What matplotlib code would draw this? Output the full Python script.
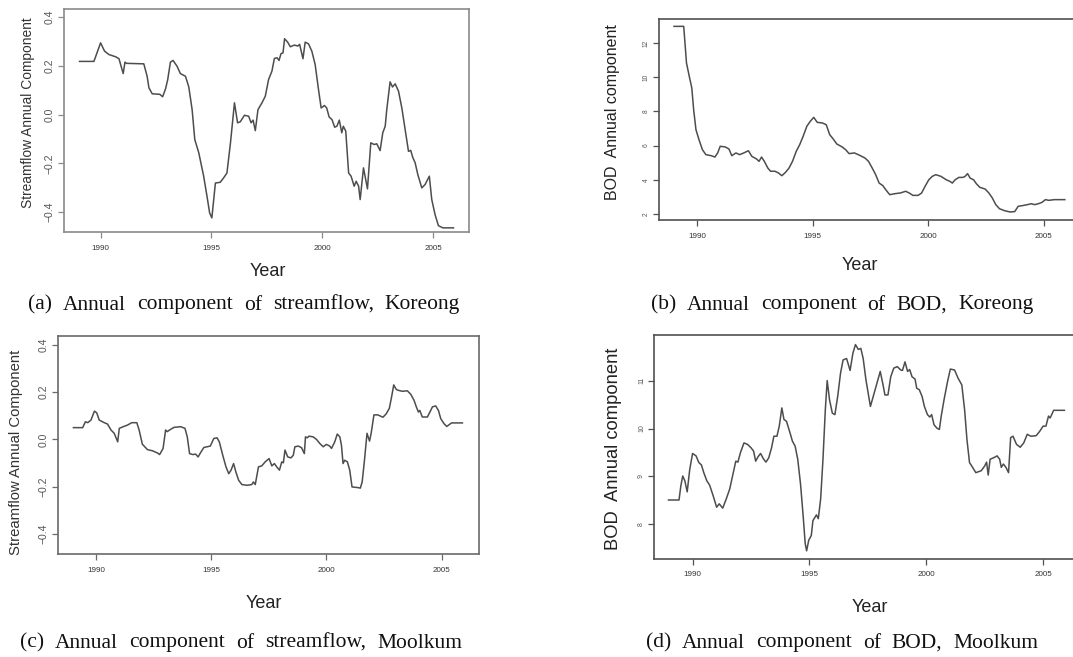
import numpy as np
import matplotlib
matplotlib.use("Agg")
import matplotlib.pyplot as plt

plt.rcParams['font.family'] = 'sans-serif'
plt.rcParams['font.sans-serif'] = ['Liberation Sans', 'DejaVu Sans']

# ---- (a) streamflow, Koreong ----
yr_a = [1989.05, 1989.7, 1990.0, 1990.18, 1990.38, 1990.68, 1990.83, 1991.02, 1991.1, 1991.17,
        1991.95, 1992.1, 1992.18, 1992.33, 1992.67, 1992.8, 1992.93, 1993.03, 1993.15, 1993.27,
        1993.45, 1993.6, 1993.83, 1993.98, 1994.13, 1994.25, 1994.43, 1994.65, 1994.8, 1994.92,
        1995.02, 1995.18, 1995.4, 1995.55, 1995.7, 1995.86, 1996.04, 1996.18, 1996.3, 1996.49,
        1996.68, 1996.79, 1996.88, 1996.98, 1997.1, 1997.28, 1997.43, 1997.58, 1997.73, 1997.84,
        1997.96, 1998.05, 1998.14, 1998.23, 1998.3, 1998.44, 1998.56, 1998.74, 1998.9, 1998.98,
        1999.13, 1999.23, 1999.38, 1999.53, 1999.68, 1999.83, 1999.95, 2000.1, 2000.2, 2000.31,
        2000.44, 2000.56, 2000.66, 2000.77, 2000.88, 2000.95, 2001.06, 2001.19, 2001.3, 2001.44,
        2001.53, 2001.64, 2001.71, 2001.86, 2002.04, 2002.19, 2002.34, 2002.46, 2002.61, 2002.73,
        2002.84, 2002.91, 2003.06, 2003.17, 2003.29, 2003.44, 2003.59, 2003.74, 2003.89, 2003.99,
        2004.08, 2004.19, 2004.31, 2004.49, 2004.64, 2004.83, 2004.94, 2005.09, 2005.24, 2005.44,
        2005.92]
val_a = [0.218, 0.218, 0.294, 0.26, 0.246, 0.237, 0.229, 0.168, 0.215, 0.21,
         0.208, 0.157, 0.11, 0.085, 0.083, 0.073, 0.105, 0.144, 0.215, 0.222,
         0.198, 0.168, 0.157, 0.113, 0.02, -0.103, -0.157, -0.253, -0.335, -0.404,
         -0.424, -0.281, -0.278, -0.26, -0.24, -0.116, 0.048, -0.034, -0.03, -0.003,
         -0.007, -0.034, -0.023, -0.066, 0.02, 0.048, 0.075, 0.144, 0.178, 0.23,
         0.233, 0.222, 0.25, 0.253, 0.311, 0.297, 0.278, 0.285, 0.281, 0.288,
         0.229, 0.297, 0.29, 0.26, 0.205, 0.103, 0.027, 0.037, 0.027, -0.01,
         -0.021, -0.052, -0.048, -0.023, -0.075, -0.048, -0.068, -0.24, -0.253, -0.294,
         -0.274, -0.294, -0.349, -0.219, -0.305, -0.116, -0.123, -0.12, -0.148, -0.075,
         -0.048, 0.02, 0.134, 0.113, 0.126, 0.096, 0.027, -0.062, -0.151, -0.147,
         -0.175, -0.198, -0.246, -0.301, -0.287, -0.253, -0.349, -0.411, -0.456, -0.465,
         -0.465]

# ---- (b) BOD, Koreong ----
yr_b = [1989.0, 1989.42, 1989.54, 1989.66, 1989.77, 1989.85, 1989.95, 1990.08, 1990.23, 1990.38,
        1990.61, 1990.77, 1990.89, 1991.0, 1991.22, 1991.38, 1991.5, 1991.68, 1991.84, 1992.02,
        1992.22, 1992.37, 1992.57, 1992.68, 1992.79, 1992.91, 1993.06, 1993.18, 1993.37, 1993.52,
        1993.67, 1993.83, 1993.98, 1994.13, 1994.29, 1994.44, 1994.59, 1994.75, 1994.9, 1995.05,
        1995.2, 1995.43, 1995.59, 1995.74, 1995.89, 1996.05, 1996.28, 1996.43, 1996.58, 1996.81,
        1997.04, 1997.27, 1997.42, 1997.58, 1997.73, 1997.88, 1998.04, 1998.19, 1998.34, 1998.57,
        1998.8, 1999.03, 1999.18, 1999.34, 1999.57, 1999.72, 1999.87, 2000.03, 2000.18, 2000.33,
        2000.56, 2000.79, 2000.94, 2001.05, 2001.17, 2001.33, 2001.51, 2001.6, 2001.71, 2001.82,
        2001.97, 2002.09, 2002.24, 2002.47, 2002.63, 2002.78, 2002.93, 2003.09, 2003.32, 2003.55,
        2003.75, 2003.9, 2004.08, 2004.31, 2004.46, 2004.62, 2004.77, 2004.93, 2005.08, 2005.23,
        2005.46, 2005.92]
val_b = [12.97, 12.97, 10.83, 10.05, 9.37, 8.1, 6.93, 6.35, 5.76, 5.47,
         5.41, 5.33, 5.57, 5.96, 5.92, 5.8, 5.41, 5.57, 5.47, 5.57,
         5.7, 5.37, 5.22, 5.08, 5.33, 5.08, 4.69, 4.5, 4.5, 4.4,
         4.24, 4.44, 4.69, 5.08, 5.66, 6.05, 6.54, 7.13, 7.42, 7.65,
         7.36, 7.32, 7.22, 6.64, 6.39, 6.09, 5.92, 5.76, 5.53, 5.57,
         5.43, 5.27, 5.08, 4.69, 4.3, 3.81, 3.66, 3.38, 3.13, 3.19,
         3.23, 3.33, 3.23, 3.09, 3.09, 3.23, 3.62, 4.0, 4.2, 4.3,
         4.2, 4.0, 3.91, 3.81, 4.0, 4.14, 4.14, 4.2, 4.36, 4.1,
         4.0, 3.77, 3.56, 3.46, 3.23, 2.94, 2.55, 2.31, 2.19, 2.12,
         2.14, 2.45, 2.49, 2.55, 2.6, 2.55, 2.6, 2.68, 2.84, 2.8,
         2.84, 2.84]

# ---- (c) streamflow, Moolkum ----
yr_c = [1989.02, 1989.42, 1989.54, 1989.64, 1989.78, 1989.93, 1990.03, 1990.14, 1990.36, 1990.5,
        1990.65, 1990.79, 1990.94, 1991.01, 1991.18, 1991.37, 1991.55, 1991.77, 1991.87, 1992.01,
        1992.23, 1992.45, 1992.66, 1992.76, 1992.91, 1993.02, 1993.09, 1993.19, 1993.38, 1993.67,
        1993.86, 1993.96, 1994.06, 1994.2, 1994.32, 1994.43, 1994.53, 1994.68, 1994.82, 1994.96,
        1995.11, 1995.25, 1995.35, 1995.5, 1995.64, 1995.76, 1995.86, 1995.97, 1996.07, 1996.19,
        1996.33, 1996.55, 1996.76, 1996.83, 1996.91, 1997.05, 1997.19, 1997.34, 1997.51, 1997.63,
        1997.74, 1997.84, 1997.96, 1998.06, 1998.13, 1998.2, 1998.32, 1998.46, 1998.56, 1998.63,
        1998.78, 1998.92, 1999.04, 1999.09, 1999.17, 1999.24, 1999.42, 1999.57, 1999.71, 1999.86,
        2000.0, 2000.14, 2000.22, 2000.36, 2000.47, 2000.58, 2000.65, 2000.72, 2000.79, 2000.91,
        2001.01, 2001.11, 2001.37, 2001.47, 2001.55, 2001.65, 2001.76, 2001.87, 2001.94, 2002.06,
        2002.23, 2002.45, 2002.59, 2002.73, 2002.83, 2002.92, 2003.02, 2003.08, 2003.29, 2003.51,
        2003.66, 2003.8, 2003.9, 2003.99, 2004.05, 2004.16, 2004.38, 2004.49, 2004.6, 2004.74,
        2004.86, 2004.96, 2005.1, 2005.22, 2005.43, 2005.9]
val_c = [0.05, 0.05, 0.075, 0.071, 0.082, 0.12, 0.113, 0.082, 0.071, 0.065,
         0.04, 0.026, -0.01, 0.047, 0.054, 0.061, 0.071, 0.071, 0.04, -0.02,
         -0.043, -0.048, -0.057, -0.064, -0.038, 0.04, 0.033, 0.04, 0.051, 0.054,
         0.047, 0.011, -0.06, -0.064, -0.062, -0.074, -0.057, -0.034, -0.031, -0.028,
         0.004, 0.007, -0.01, -0.067, -0.116, -0.145, -0.13, -0.102, -0.138, -0.173,
         -0.191, -0.194, -0.191, -0.18, -0.191, -0.116, -0.112, -0.095, -0.081, -0.112,
         -0.102, -0.116, -0.13, -0.095, -0.099, -0.045, -0.074, -0.078, -0.067, -0.031,
         -0.028, -0.035, -0.06, 0.011, 0.007, 0.014, 0.011, 0.0, -0.017, -0.031,
         -0.021, -0.028, -0.038, -0.01, 0.023, 0.011, -0.024, -0.102, -0.088, -0.095,
         -0.13, -0.201, -0.204, -0.206, -0.18, -0.088, 0.026, -0.007, 0.026, 0.104,
         0.104, 0.094, 0.108, 0.132, 0.182, 0.231, 0.213, 0.209, 0.204, 0.206,
         0.191, 0.166, 0.138, 0.116, 0.123, 0.095, 0.095, 0.116, 0.138, 0.142,
         0.123, 0.088, 0.067, 0.055, 0.07, 0.07]

# ---- (d) BOD, Moolkum ----
yr_d = [1988.97, 1989.42, 1989.5, 1989.58, 1989.67, 1989.77, 1989.88, 1990.0, 1990.15, 1990.27,
        1990.38, 1990.48, 1990.61, 1990.73, 1990.88, 1991.03, 1991.14, 1991.29, 1991.44, 1991.59,
        1991.74, 1991.85, 1991.94, 1992.05, 1992.2, 1992.35, 1992.5, 1992.61, 1992.7, 1992.8,
        1992.91, 1993.03, 1993.14, 1993.26, 1993.38, 1993.48, 1993.61, 1993.71, 1993.82, 1993.91,
        1994.02, 1994.17, 1994.27, 1994.39, 1994.5, 1994.62, 1994.73, 1994.82, 1994.88, 1994.97,
        1995.08, 1995.15, 1995.3, 1995.38, 1995.48, 1995.58, 1995.68, 1995.76, 1995.86, 1995.98,
        1996.09, 1996.21, 1996.33, 1996.44, 1996.59, 1996.74, 1996.86, 1996.97, 1997.09, 1997.2,
        1997.3, 1997.42, 1997.61, 1997.73, 1997.88, 1998.03, 1998.15, 1998.23, 1998.36, 1998.48,
        1998.61, 1998.76, 1998.91, 1998.98, 1999.09, 1999.2, 1999.29, 1999.39, 1999.52, 1999.59,
        1999.7, 1999.82, 1999.92, 2000.05, 2000.15, 2000.23, 2000.33, 2000.45, 2000.56, 2000.64,
        2000.76, 2000.91, 2001.03, 2001.21, 2001.36, 2001.52, 2001.64, 2001.74, 2001.85, 2001.97,
        2002.12, 2002.23, 2002.35, 2002.5, 2002.58, 2002.65, 2002.73, 2002.88, 2003.03, 2003.14,
        2003.21, 2003.3, 2003.41, 2003.52, 2003.61, 2003.71, 2003.86, 2004.02, 2004.17, 2004.32,
        2004.47, 2004.7, 2004.85, 2005.0, 2005.12, 2005.23, 2005.3, 2005.45, 2005.91]
val_d = [8.51, 8.51, 8.81, 9.01, 8.91, 8.68, 9.15, 9.48, 9.43, 9.29,
         9.24, 9.08, 8.91, 8.82, 8.6, 8.36, 8.43, 8.34, 8.53, 8.74,
         9.08, 9.32, 9.3, 9.5, 9.7, 9.67, 9.6, 9.53, 9.32, 9.41,
         9.48, 9.37, 9.3, 9.39, 9.6, 9.84, 9.84, 10.05, 10.43, 10.19,
         10.15, 9.91, 9.74, 9.63, 9.36, 8.84, 8.19, 7.6, 7.45, 7.67,
         7.77, 8.08, 8.2, 8.12, 8.53, 9.36, 10.39, 11.0, 10.6, 10.32,
         10.29, 10.67, 11.15, 11.43, 11.46, 11.21, 11.57, 11.75, 11.65, 11.67,
         11.46, 11.01, 10.46, 10.67, 10.94, 11.19, 10.91, 10.7, 10.7, 11.08,
         11.26, 11.29, 11.22, 11.21, 11.39, 11.19, 11.23, 11.08, 11.03, 10.84,
         10.81, 10.67, 10.46, 10.29, 10.24, 10.29, 10.08, 10.01, 9.98, 10.26,
         10.6, 10.98, 11.24, 11.22, 11.05, 10.91, 10.39, 9.77, 9.29, 9.2,
         9.08, 9.1, 9.12, 9.22, 9.3, 9.03, 9.36, 9.39, 9.43, 9.36,
         9.19, 9.26, 9.19, 9.08, 9.81, 9.84, 9.67, 9.61, 9.7, 9.88,
         9.84, 9.85, 9.94, 10.05, 10.05, 10.26, 10.22, 10.38, 10.38]

xticks = [1990, 1995, 2000, 2005]
yticks_a = [-0.4, -0.2, 0.0, 0.2, 0.4]
yticks_b = [2, 4, 6, 8, 10, 12]
yticks_d = [8, 9, 10, 11]

captions = ["(a) Annual component of streamflow, Koreong",
            "(b) Annual component of BOD, Koreong",
            "(c) Annual component of streamflow, Moolkum",
            "(d) Annual component of BOD, Moolkum"]

W, H = 1073, 657
fig = plt.figure(figsize=(W / 100, H / 100), dpi=100)


def px_axes(l, t, r, b):
    return fig.add_axes([l / W, 1 - b / H, (r - l) / W, (b - t) / H])


def ftext(xp, yp, s, **kw):
    return fig.text(xp / W, 1 - yp / H, s, ha="center", va="center", **kw)


def spaced(s, xc, yc, gap, **kw):
    # caption set word by word with a wide, fixed inter-word gap (pixels), centred on xc
    words = s.split(" ")
    texts = [fig.text(0, 1 - yc / H, w, ha="left", va="center", **kw) for w in words]
    r = fig.canvas.get_renderer()
    widths = [t.get_window_extent(r).width for t in texts]
    total = sum(widths) + gap * (len(words) - 1)
    x = xc - total / 2
    for t, w in zip(texts, widths):
        t.set_x(x / W)
        x += w + gap


line_col = "#4d4d4d"

panels = [
    # x, y, box(l,t,r,b), ylim, yticks, frame colour, ytick size, decimals
    (yr_a, val_a, (64, 9, 469, 232), (-0.482, 0.433), yticks_a, "#8a8a8a", 7.5, True),
    (yr_b, val_b, (659, 19, 1081, 220), (1.65, 13.4), yticks_b, "#505050", 4.8, False),
    (yr_c, val_c, (58, 336, 479, 554), (-0.485, 0.438), yticks_a, "#6a6a6a", 7.5, True),
    (yr_d, val_d, (654, 335, 1081, 559), (7.28, 11.95), yticks_d, "#505050", 5.0, False),
]

for x, y, box, ylim, yt, fcol, ysz, dec in panels:
    ax = px_axes(*box)
    ax.plot(x, y, color=line_col, lw=1.1)
    ax.set_xlim(1988.35, 2006.62)
    ax.set_ylim(*ylim)
    ax.set_xticks(xticks)
    ax.set_xticklabels([str(v) for v in xticks], fontsize=5.8, color="#333333")
    ax.set_yticks(yt)
    if dec:
        labs = [f"{v:.1f}".replace("-", "\u2212") for v in yt]
    else:
        labs = [str(v) for v in yt]
    ax.set_yticklabels(labs, fontsize=ysz, rotation=90, va="center", color="#555555")
    ax.tick_params(axis="both", direction="out", length=4, width=0.9, color=fcol)
    ax.tick_params(axis="x", pad=5)
    ax.tick_params(axis="y", pad=2.5)
    for s in ax.spines.values():
        s.set_color(fcol)
        s.set_linewidth(1.2)

# axis titles, placed in figure pixels as in the composite
ftext(28, 113, "Streamflow Annual Component", rotation=90, fontsize=9.9, color="#333333")
ftext(613, 112, "BOD  Annual component", rotation=90, fontsize=11.5, color="#222222")
ftext(16, 452, "Streamflow Annual Component", rotation=90, fontsize=10.7, color="#333333")
ftext(613, 449, "BOD  Annual component", rotation=90, fontsize=13.2, color="#222222")

ftext(268, 272, "Year", fontsize=13, color="#222222")
ftext(860, 265, "Year", fontsize=13, color="#222222")
ftext(264, 603, "Year", fontsize=13, color="#222222")
ftext(870, 608, "Year", fontsize=13, color="#222222")

cap_kw = dict(fontsize=15.5, family="Liberation Serif", color="#111111")
spaced(captions[0], 244, 305, 11, **cap_kw)
spaced(captions[1], 842, 305, 11, **cap_kw)
spaced(captions[2], 241, 643, 11, **cap_kw)
spaced(captions[3], 842, 643, 11, **cap_kw)

fig.savefig("out.png", dpi=100)
